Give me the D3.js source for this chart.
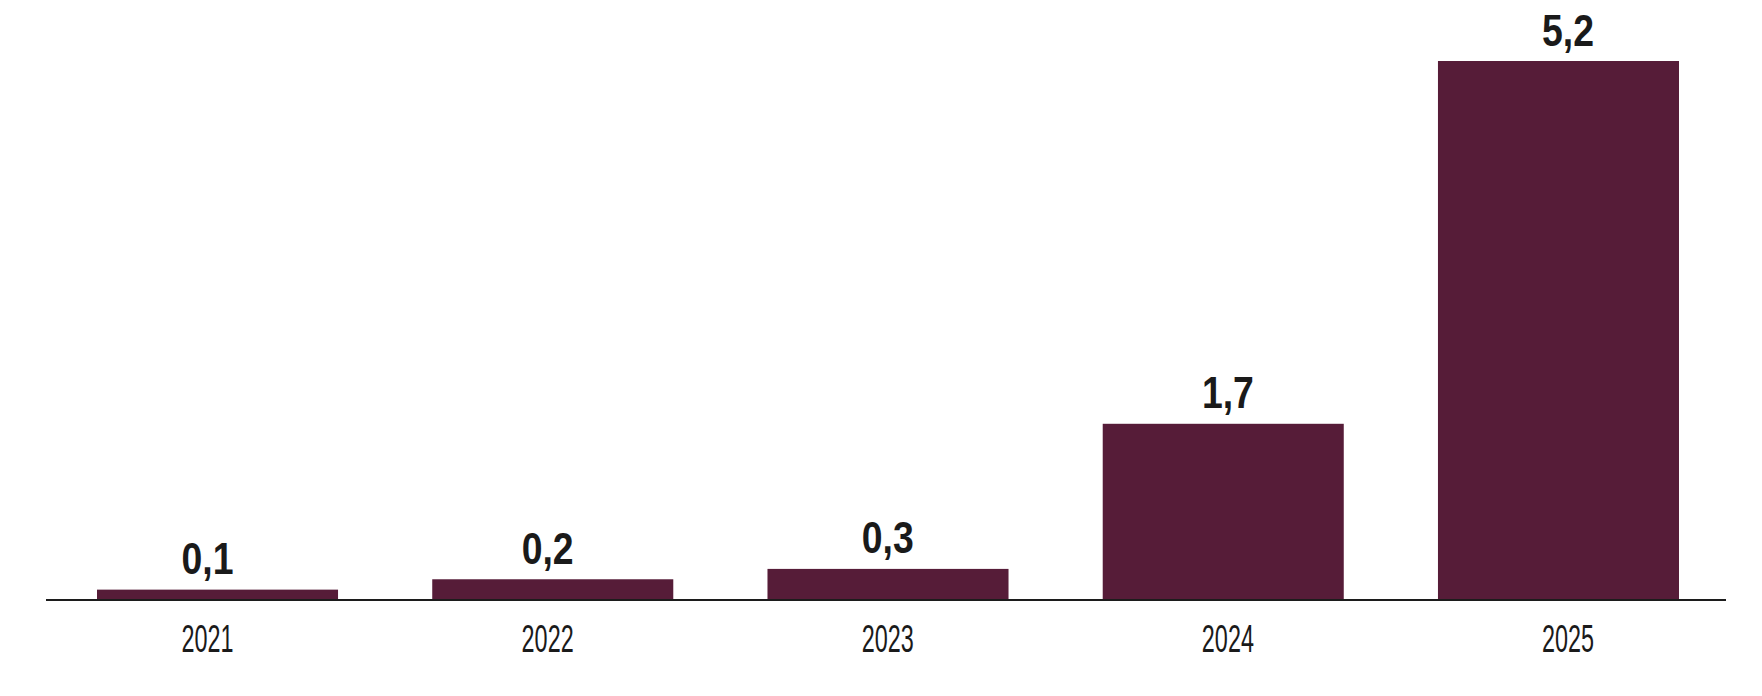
<!DOCTYPE html>
<html lang="en">
<head>
  <meta charset="UTF-8">
  <title>Bars</title>
  <style>
    html, body { margin: 0; padding: 0; background: #fff; }
    svg { display: block; }
  </style>
</head>
<body>
  <svg width=1762 height=696 id="viz"></svg>

  <script src="https://cdn.jsdelivr.net/npm/d3@7"></script>
  <script>
/* global d3 */

const years = ["2021", "2022", "2023", "2024", "2025"];
const values = [0.1, 0.2, 0.3, 1.7, 5.2];
const valueLabels = ["0,1", "0,2", "0,3", "1,7", "5,2"];

let svg = d3.select("#viz"),
  baseY = 600;

let x = d3.scaleBand()
  .domain(years)
  .range([97, 1679])
  .paddingInner(0.281)
  .paddingOuter(0);

// labels sit on a slightly wider spread than the bars
let xLab = d3.scalePoint()
  .domain(years)
  .range([207.5, 1568]);

let y = d3.scaleLinear()
  .domain([0, 5.2])
  .range([baseY, 61]);

let data = years.map((yr, i) => ({year: yr, value: values[i], label: valueLabels[i]}));

svg.selectAll(".bar")
  .data(data)
  .enter()
  .append("rect")
  .attr("class", "bar")
  .attr("x", d => x(d.year))
  .attr("y", d => y(d.value))
  .attr("width", x.bandwidth())
  .attr("height", d => baseY - y(d.value))
  .attr("fill", "#561c38");

// baseline
svg.append("line")
  .attr("x1", 46)
  .attr("x2", 1726)
  .attr("y1", baseY)
  .attr("y2", baseY)
  .attr("stroke", "#1c1c1c")
  .attr("stroke-width", 2);

svg.selectAll(".val")
  .data(data)
  .enter()
  .append("text")
  .attr("class", "val")
  .attr("text-anchor", "middle")
  .attr("transform", d => "translate(" + xLab(d.year) + "," + (y(d.value) - 15.5) + ") scale(0.85,1)")
  .attr("font-family", "'Liberation Sans', Arial, sans-serif")
  .attr("font-weight", "bold")
  .attr("font-size", 44)
  .attr("fill", "#1a1a1a")
  .text(d => d.label);

svg.selectAll(".yr")
  .data(data)
  .enter()
  .append("text")
  .attr("class", "yr")
  .attr("text-anchor", "middle")
  .attr("transform", d => "translate(" + xLab(d.year) + ",652) scale(0.6,1)")
  .attr("font-family", "'Liberation Sans', Arial, sans-serif")
  .attr("font-size", 39)
  .attr("fill", "#1a1a1a")
  .text(d => d.year);
  </script>
</body>
</html>
